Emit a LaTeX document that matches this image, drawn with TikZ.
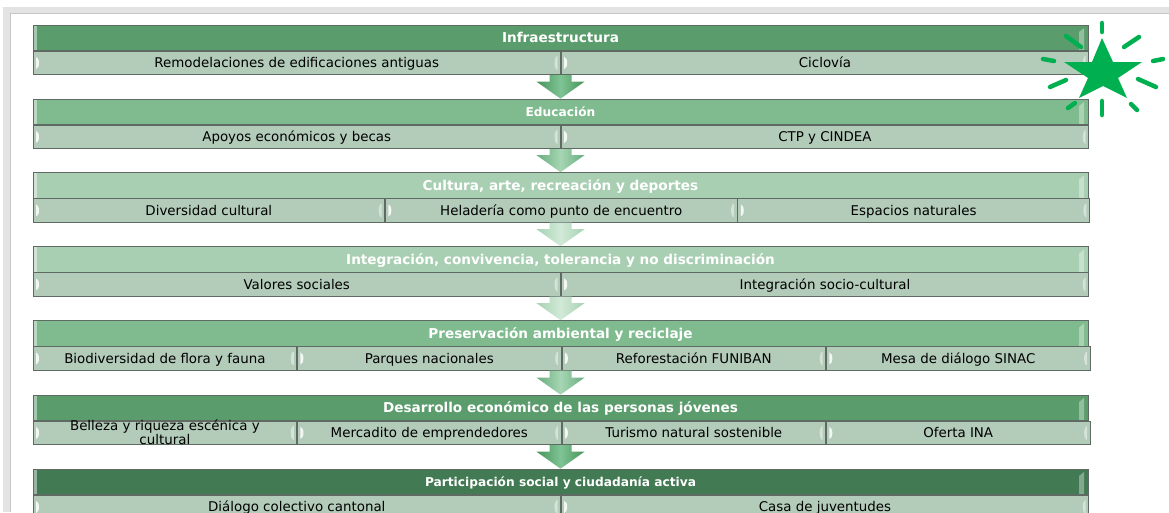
\documentclass[tikz,border=0pt]{standalone}
\usepackage{fontspec}
\setmainfont{DejaVu Sans}
\usetikzlibrary{calc}
\definecolor{framegray}{HTML}{E3E3E3}
\definecolor{bordergray}{HTML}{5E6A62}
\definecolor{hdrA}{HTML}{5B9C6C}
\definecolor{hdrB}{HTML}{80BB8F}
\definecolor{hdrC}{HTML}{A9CFB3}
\definecolor{hdrD}{HTML}{427A53}
\definecolor{subfill}{HTML}{B3CBB9}
\definecolor{stargreen}{HTML}{00B050}
\definecolor{arrA}{HTML}{459459}
\definecolor{arrAm}{HTML}{80C495}
\definecolor{arrB}{HTML}{68AD7E}
\definecolor{arrBm}{HTML}{A6D6B3}
\definecolor{arrC}{HTML}{A6D1B2}
\definecolor{arrCm}{HTML}{D2EAD8}
\tikzset{
  hdr/.style={draw=bordergray, line width=0.7pt, minimum width=1055pt,
    minimum height=25.5pt, inner sep=0pt, text=white,
    text height=11.2pt, text depth=1.6pt,
    font=\bfseries\fontsize{13.6}{15}\selectfont,
    path picture={
      \fill[white, opacity=0.45] (path picture bounding box.north west)
        rectangle ([xshift=4pt]path picture bounding box.south west);
      \fill[white, opacity=0.35] ([xshift=-9pt,yshift=-7pt]path picture bounding box.north east)
        -- ([xshift=-4pt,yshift=-3pt]path picture bounding box.north east)
        -- ([xshift=-4pt]path picture bounding box.south east)
        -- ([xshift=-9pt]path picture bounding box.south east) -- cycle;
    }},
  hdrsmall/.style={font=\bfseries\fontsize{12.2}{14}\selectfont,
    text height=10pt, text depth=1.3pt},
  subc/.style={draw=bordergray, line width=0.7pt, fill=subfill,
    minimum height=23.5pt, inner sep=0pt, text=black,
    text height=11pt, text depth=1.8pt,
    font=\fontsize{13.4}{12}\selectfont,
    path picture={
      \fill[white, opacity=0.85] ([xshift=3pt,yshift=6pt]path picture bounding box.west)
        arc[start angle=90, end angle=-90, x radius=3pt, y radius=6pt] -- cycle;
      \fill[white, opacity=0.45] ([xshift=-3pt,yshift=7pt]path picture bounding box.east)
        arc[start angle=90, end angle=270, x radius=3pt, y radius=7pt] -- cycle;
    }},
  blockarrow/.style={left color=#1, right color=#1, middle color=#1m},
}
\newcommand{\flowarrow}[4]{% from-header, from-sub, to-header, colour
  \path[blockarrow=#4]
    ($(#1.center |- #2.south)+(-11,0)$) -- ($(#1.center |- #2.south)+(11,0)$)
    -- ($(#3.north)+(11,-17)$) -- ($(#3.north)+(24,-17)$) -- (#3.north)
    -- ($(#3.north)+(-24,-17)$) -- ($(#3.north)+(-11,-17)$) -- cycle;}
\begin{document}
\begin{tikzpicture}[x=1pt,y=-1pt]
\useasboundingbox (0,0) rectangle (1169,512);
\fill[framegray] (3,7) rectangle (1169,512);
\fill[white] (10,13) rectangle (1169,512);
\draw[gray!45, line width=0.5pt] (10,512) -- (10,13) -- (1169,13);

% Row 1
\node[hdr, fill=hdrA] (h1) at (560.5,37.75) {Infraestructura};
\node[subc, minimum width=527.5pt, anchor=north west] (s1a) at (h1.south west) {Remodelaciones de edificaciones antiguas};
\node[subc, minimum width=527.5pt, anchor=west] (s1b) at (s1a.east) {Ciclovía};

% Row 2
\node[hdr, hdrsmall, fill=hdrB] (h2) at (560.5,111.75) {Educación};
\node[subc, minimum width=527.5pt, anchor=north west] (s2a) at (h2.south west) {Apoyos económicos y becas};
\node[subc, minimum width=527.5pt, anchor=west] (s2b) at (s2a.east) {CTP y CINDEA};

% Row 3
\node[hdr, fill=hdrC] (h3) at (560.5,185.25) {Cultura, arte, recreación y deportes};
\node[subc, minimum width=351.67pt, anchor=north west] (s3a) at (h3.south west) {Diversidad cultural};
\node[subc, minimum width=351.67pt, anchor=west] (s3b) at (s3a.east) {Heladería como punto de encuentro};
\node[subc, minimum width=351.67pt, anchor=west] (s3c) at (s3b.east) {Espacios naturales};

% Row 4
\node[hdr, fill=hdrC] (h4) at (560.5,259.25) {Integración, convivencia, tolerancia y no discriminación};
\node[subc, minimum width=527.5pt, anchor=north west] (s4a) at (h4.south west) {Valores sociales};
\node[subc, minimum width=527.5pt, anchor=west] (s4b) at (s4a.east) {Integración socio-cultural};

% Row 5
\node[hdr, fill=hdrB] (h5) at (560.5,333.25) {Preservación ambiental y reciclaje};
\node[subc, minimum width=263.75pt, anchor=north west] (s5a) at (h5.south west) {Biodiversidad de flora y fauna};
\node[subc, minimum width=263.75pt, anchor=west] (s5b) at (s5a.east) {Parques nacionales};
\node[subc, minimum width=263.75pt, anchor=west] (s5c) at (s5b.east) {Reforestación FUNIBAN};
\node[subc, minimum width=263.75pt, anchor=west] (s5d) at (s5c.east) {Mesa de diálogo SINAC};

% Row 6
\node[hdr, fill=hdrA] (h6) at (560.5,407.75) {Desarrollo económico de las personas jóvenes};
\node[subc, minimum width=263.75pt, anchor=north west] (s6a) at (h6.south west)
  {\smash{\begin{tabular}{@{}c@{}}Belleza y riqueza escénica y\\cultural\end{tabular}}};
\node[subc, minimum width=263.75pt, anchor=west] (s6b) at (s6a.east) {Mercadito de emprendedores};
\node[subc, minimum width=263.75pt, anchor=west] (s6c) at (s6b.east) {Turismo natural sostenible};
\node[subc, minimum width=263.75pt, anchor=west] (s6d) at (s6c.east) {Oferta INA};

% Row 7
\node[hdr, hdrsmall, fill=hdrD] (h7) at (560.5,481.75) {Participación social y ciudadanía activa};
\node[subc, minimum width=527.5pt, anchor=north west] (s7a) at (h7.south west) {Diálogo colectivo cantonal};
\node[subc, minimum width=527.5pt, anchor=west] (s7b) at (s7a.east) {Casa de juventudes};

% Arrows
\flowarrow{h1}{s1a}{h2}{arrA}
\flowarrow{h2}{s2a}{h3}{arrB}
\flowarrow{h3}{s3a}{h4}{arrC}
\flowarrow{h4}{s4a}{h5}{arrC}
\flowarrow{h5}{s5a}{h6}{arrB}
\flowarrow{h6}{s6a}{h7}{arrA}

% Star with rays
\fill[stargreen] (1102,38) -- (1113,62) -- (1142,62) -- (1118,78) -- (1127,98)
  -- (1103,86) -- (1079,98) -- (1088,78) -- (1064,62) -- (1092,62) -- cycle;
\begin{scope}[draw=stargreen, line width=4.5pt, line cap=round]
\draw (1102,23) -- (1102,32);
\draw (1124,47) -- (1139,37);
\draw (1153,61) -- (1163,59);
\draw (1138,79) -- (1156,87);
\draw (1131,104) -- (1137,110);
\draw (1102,101) -- (1102,115);
\draw (1068,108) -- (1075,103);
\draw (1050,87) -- (1066,80);
\draw (1043,59) -- (1054,61);
\draw (1066,36) -- (1081,47);
\end{scope}
\end{tikzpicture}
\end{document}
